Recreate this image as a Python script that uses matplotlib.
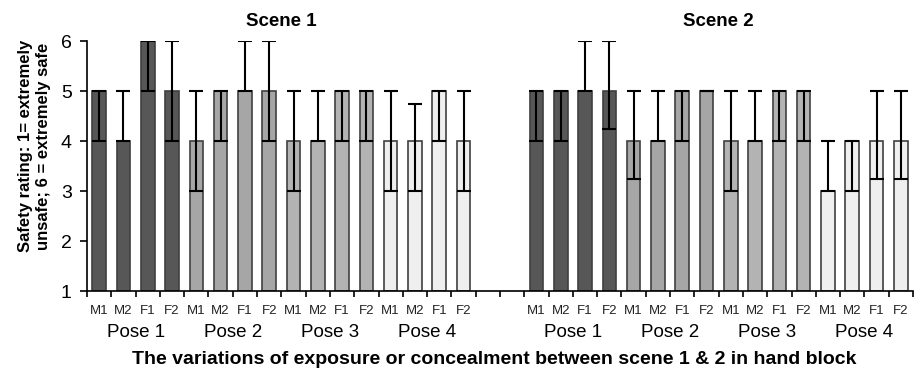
import numpy as np
import matplotlib.pyplot as plt

plt.rcParams['font.family'] = ['Liberation Sans', 'DejaVu Sans']

# data
genders = ["M1", "M2", "F1", "F2"]
poses = ["Pose 1", "Pose 2", "Pose 3", "Pose 4"]
pose_colors = ["#575757", "#a6a6a6", "#b3b3b3", "#efefef"]

scene1_vals = [5, 4, 6, 5,  4, 5, 5, 5,  4, 4, 5, 5,  4, 4, 5, 4]
scene1_low  = [4, 4, 5, 4,  3, 4, 5, 4,  3, 4, 4, 4,  3, 3, 4, 3]
scene1_high = [5, 5, 6, 6,  5, 5, 6, 6,  5, 5, 5, 5,  5, 4.75, 5, 5]

scene2_vals = [5, 5, 5, 5,  4, 4, 5, 5,  4, 4, 5, 5,  3, 4, 4, 4]
scene2_low  = [4, 4, 5, 4.25,  3.25, 4, 4, 5,  3, 4, 4, 4,  3, 3, 3.25, 3.25]
scene2_high = [5, 5, 6, 6,  5, 5, 5, 5,  5, 5, 5, 5,  4, 4, 5, 5]

n = len(scene1_vals)
gap = 2
x1 = np.arange(n)
x2 = np.arange(n) + n + gap
colors = [c for c in pose_colors for _ in genders]

fig = plt.figure(figsize=(9.15, 3.78), dpi=100)
ax = fig.add_axes([87 / 915, 87 / 378, 826 / 915, 250 / 378])

for xs, vals, lo, hi in [(x1, scene1_vals, scene1_low, scene1_high),
                         (x2, scene2_vals, scene2_low, scene2_high)]:
    vals = np.array(vals, dtype=float)
    yerr = [vals - np.array(lo), np.array(hi) - vals]
    ax.bar(xs, vals - 1, bottom=1, width=0.56, color=colors,
           edgecolor="#404040", linewidth=1.2, zorder=2)
    ax.errorbar(xs, vals, yerr=yerr, fmt="none", ecolor="black",
                elinewidth=1.5, capsize=5, capthick=1.5, zorder=3)

total = 2 * n + gap
ax.set_xlim(-0.5, total - 0.5)
ax.set_ylim(1, 6)
ax.set_yticks([1, 2, 3, 4, 5, 6])
ax.tick_params(axis="y", labelsize=14, length=5, width=1.2, direction="out", pad=6)

# category labels under each bar, ticks at slot edges
ax.set_xticks(np.concatenate([x1, x2]))
ax.set_xticklabels(genders * 8, fontsize=9.5, color="#222222")
ax.tick_params(axis="x", length=0, pad=10)
ax.set_xticks(np.arange(total + 1) - 0.5, minor=True)
ax.tick_params(axis="x", which="minor", length=4, width=1.2, direction="out")

for s in ["top", "right"]:
    ax.spines[s].set_visible(False)
ax.spines["left"].set_linewidth(1.2)
ax.spines["bottom"].set_linewidth(1.2)

trans = ax.get_xaxis_transform()
for base in [0, n + gap]:
    for i, p in enumerate(poses):
        ax.text(base + 4 * i + 1.5, -0.165, p, transform=trans,
                ha="center", va="center", fontsize=13.5)

ax.text(7.5, 1.08, "Scene 1", transform=trans, ha="center", va="center",
        fontsize=13.5, fontweight="bold")
ax.text(n + gap + 7.5, 1.08, "Scene 2", transform=trans, ha="center", va="center",
        fontsize=13.5, fontweight="bold")

fig.text(0.54, 18 / 378, "The variations of exposure or concealment between scene 1 & 2 in hand block",
         ha="center", va="center", fontsize=14, fontweight="bold")
fig.text(35 / 915, 1 - 146 / 378, "Safety rating: 1= extremely\nunsafe; 6 = extremely safe",
         rotation=90, ha="center", va="center", fontsize=12, fontweight="bold",
         linespacing=1.25)

fig.savefig("out.png", dpi=100)
